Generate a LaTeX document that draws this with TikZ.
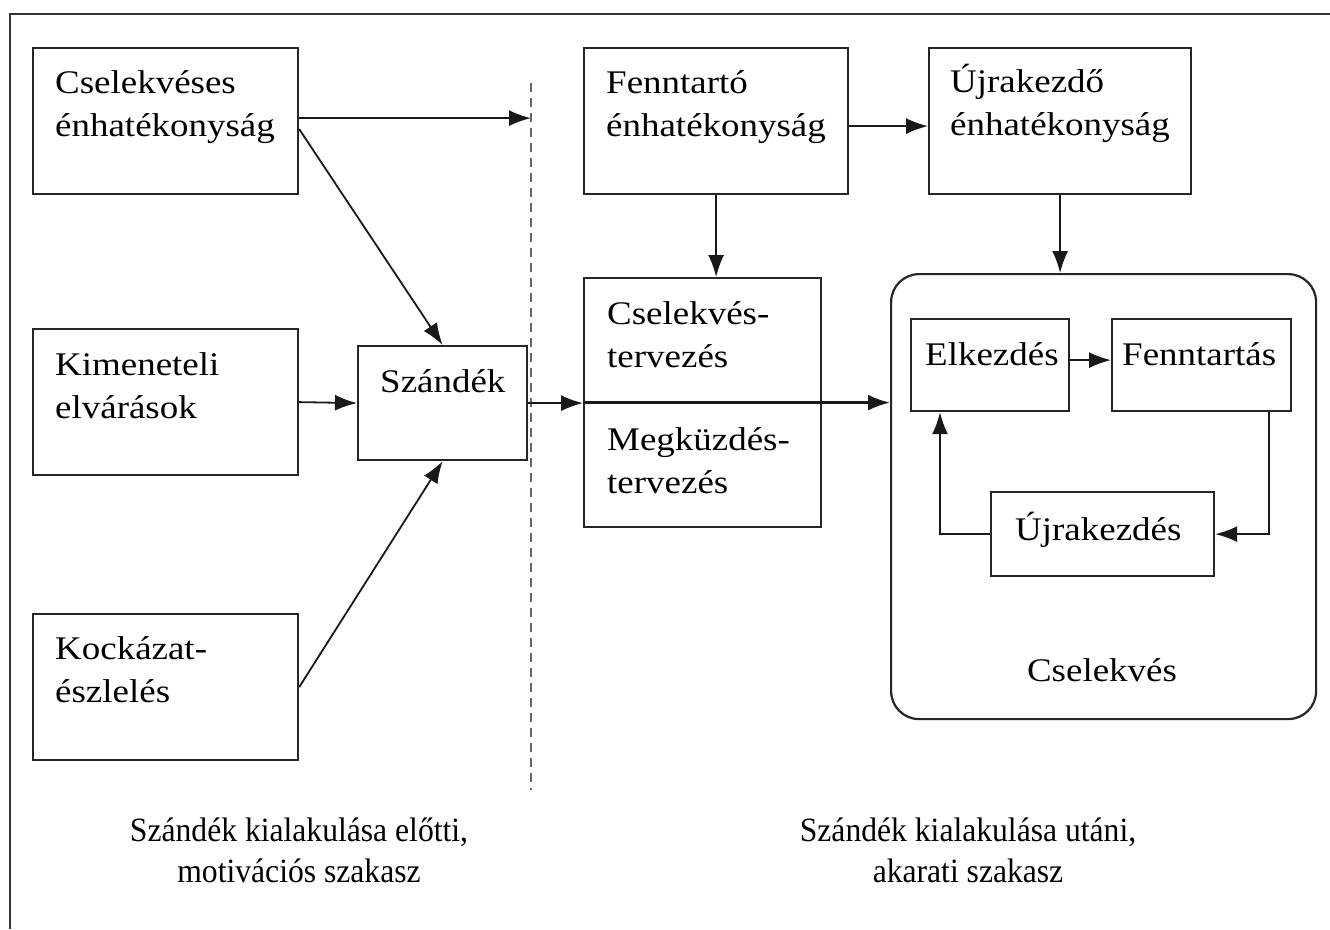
\documentclass[tikz,border=0pt]{standalone}
\usepackage{fontspec}
\setmainfont{Liberation Serif}
\newfontfamily\boxfont{Liberation Serif}[FakeStretch=1.12]
\newfontfamily\capfont{Liberation Serif}[FakeStretch=0.93]
\usetikzlibrary{arrows.meta,calc}

\tikzset{
  frame/.style={line width=2.4pt, draw=black!80},
  box/.style={draw=black!85, line width=2.2pt, anchor=north west, inner sep=0pt},
  lbl/.style={anchor=north west, inner sep=0pt, align=left,
    font=\boxfont\fontsize{33}{43}\selectfont, text=black},
  phasecap/.style={inner sep=0pt, align=center,
    font=\capfont\fontsize{34}{41}\selectfont, text=black},
  arr/.style={draw=black!90, line width=1.8pt, -{Latex[length=22pt,width=16pt]}},
  divider/.style={draw=black!60, line width=2.2pt, dash pattern=on 9pt off 6pt},
}

\begin{document}
\begin{tikzpicture}[x=1pt,y=-1pt]
\useasboundingbox (0,0) rectangle (1330,929);
\fill[white] (0,0) rectangle (1330,929);

% outer frame (only top and left edges fall inside the page)
\draw[frame] (1330,14) -- (10,14) -- (10,929);

% motivational phase
\node[box, minimum width=265pt, minimum height=146pt] (cs) at (32,47) {};
\node[lbl] (cst) at (55,70) {Cselekvéses\\énhatékonyság};
\node[box, minimum width=265pt, minimum height=146pt] (ki) at (32,328) {};
\node[lbl] (kit) at (55,352) {Kimeneteli\\elvárások};
\node[box, minimum width=265pt, minimum height=146pt] (kc) at (32,613) {};
\node[lbl] (kct) at (55,636) {Kockázat-\\észlelés};
\node[box, minimum width=169pt, minimum height=114pt] (sz) at (357,345) {};
\node[lbl] (szt) at (380,369) {Szándék};

% phase divider
\coordinate (dtop) at (531,83);
\coordinate (dbot) at (531,790);
\draw[divider] (dtop) -- (dbot);

% volitional phase
\node[box, minimum width=264pt, minimum height=146pt] (fe) at (583,47) {};
\node[lbl] (fet) at (606,70) {Fenntartó\\énhatékonyság};
\node[box, minimum width=262pt, minimum height=146pt] (uj) at (928,47) {};
\node[lbl] (ujt) at (950,64) {Újrakezdő\\énhatékonyság};
\node[box, minimum width=237pt, minimum height=249pt] (pl) at (583,277) {};
\node[lbl] (plt1) at (607,301) {Cselekvés-\\tervezés};
\node[lbl] (plt2) at (607,427) {Megküzdés-\\tervezés};

% action block
\node[box, rounded corners=28pt, minimum width=425pt, minimum height=445pt] (act) at (890,273) {};
\node[box, minimum width=158pt, minimum height=92pt] (el) at (910,318) {};
\node[lbl] (elt) at (925,342) {Elkezdés};
\node[box, minimum width=179pt, minimum height=92pt] (fa) at (1111,318) {};
\node[lbl] (fat) at (1122,342) {Fenntartás};
\node[box, minimum width=223pt, minimum height=84pt] (uk) at (990,491) {};
\node[lbl] (ukt) at (1015,512) {Újrakezdés};
\node[lbl, anchor=center] (act-t) at (1102,670) {Cselekvés};

% connectors
\draw[arr] ($(cs.east)+(0,-3)$) -- ($(cs.east -| dtop)+(0,-3)$);
\draw[arr] ($(cs.east)+(0,8)$) -- (sz.north);
\draw[arr] (ki.east) -- (sz.west);
\draw[arr] (kc.east) -- (sz.south);
\draw[arr] (sz.east) -- (sz.east -| pl.west);
\draw[arr, line width=2.6pt] (pl.west) -- (pl.west -| act.west);
\draw[arr] ($(fe.east)+(0,5)$) -- ($(uj.west)+(0,5)$);
\draw[arr] (fe.south) -- (fe.south |- pl.north);
\draw[arr] (uj.south) -- (uj.south |- act.north);
\draw[arr] ($(el.east)+(0,-5)$) -- ($(fa.west)+(0,-5)$);
\draw[arr] ($(fa.south east)+(-23,0)$) |- (uk.east);
\draw[arr] (uk.west) -| ($(el.south west)+(30,0)$);

% phase captions
\node[phasecap] (cap1) at (299,850) {Szándék kialakulása előtti,\\motivációs szakasz};
\node[phasecap] (cap2) at (968,850) {Szándék kialakulása utáni,\\akarati szakasz};
\end{tikzpicture}
\end{document}
